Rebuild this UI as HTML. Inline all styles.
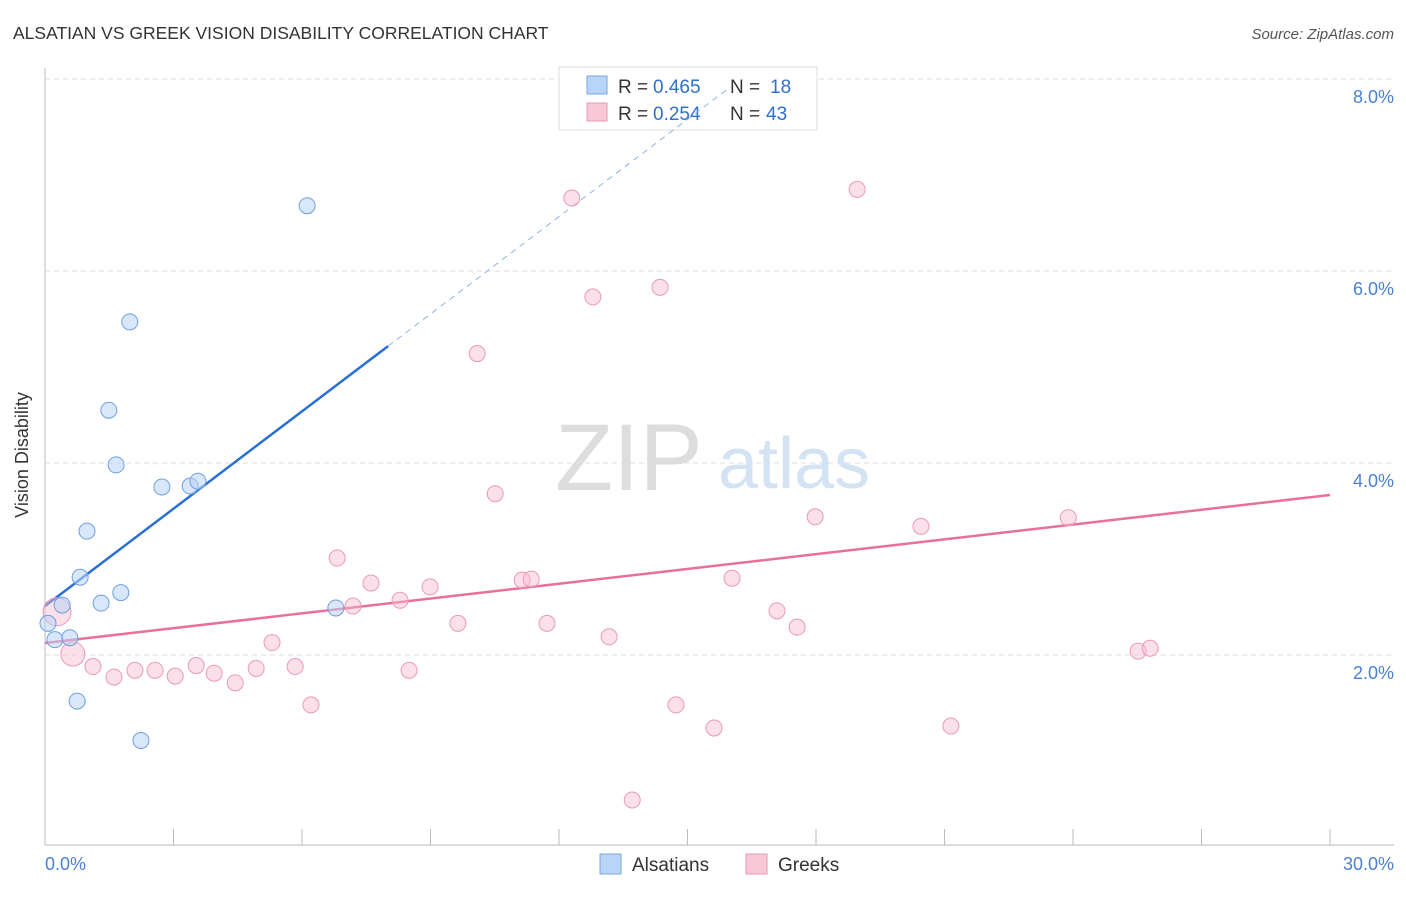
<!DOCTYPE html>
<html><head><meta charset="utf-8"><style>
body{margin:0;background:#fff;font-family:"Liberation Sans",sans-serif}
svg text{font-family:"Liberation Sans",sans-serif}
</style></head><body>
<svg width="1406" height="892">
<text x="13" y="39" font-size="17.5" fill="#333">ALSATIAN VS GREEK VISION DISABILITY CORRELATION CHART</text>
<text x="1394" y="39" font-size="15" fill="#555" text-anchor="end" font-style="italic">Source: ZipAtlas.com</text>
<text x="28" y="455" font-size="18" fill="#333" text-anchor="middle" transform="rotate(-90 28 455)">Vision Disability</text>
<g id="grid"></g>
<line x1="45" y1="68" x2="45" y2="845" stroke="#bbb"/>
<line x1="45" y1="845" x2="1394" y2="845" stroke="#bbb"/>
<text x="555" y="490" font-size="95" fill="#ddd" font-family="Liberation Serif">ZIP</text>
<text x="718" y="488" font-size="72" fill="#d4e3f4">atlas</text>
<g id="ticks"></g>
<g>
<rect x="559" y="67" width="258" height="63" fill="#fff" stroke="#ddd"/>
<rect x="587" y="76" width="20" height="18" fill="#b8d4f6" stroke="#7aa6e0"/>
<rect x="587" y="103" width="20" height="18" fill="#f9c8d6" stroke="#e99ab2"/>
<text x="618" y="93" font-size="19" fill="#333">R =</text>
<text x="653" y="93" font-size="19" fill="#2f6fd0">0.465</text>
<text x="730" y="93" font-size="19" fill="#333">N =</text>
<text x="770" y="93" font-size="19" fill="#2f6fd0">18</text>
<text x="618" y="120" font-size="19" fill="#333">R =</text>
<text x="653" y="120" font-size="19" fill="#2f6fd0">0.254</text>
<text x="730" y="120" font-size="19" fill="#333">N =</text>
<text x="766" y="120" font-size="19" fill="#2f6fd0">43</text>
</g>
<g id="lines"></g>
<g id="pts"></g>
<text x="45" y="870" font-size="18" fill="#4a7fd4">0.0%</text>
<text x="1394" y="870" font-size="18" fill="#4a7fd4" text-anchor="end">30.0%</text>
<rect x="600" y="854" width="21" height="20" fill="#b8d4f6" stroke="#7aa6e0"/>
<text x="632" y="871" font-size="19" fill="#333">Alsatians</text>
<rect x="746" y="854" width="21" height="20" fill="#f9c8d6" stroke="#e99ab2"/>
<text x="778" y="871" font-size="19" fill="#333">Greeks</text>
</svg>
<script>
const yTicks=[2,4,6,8];
const xTicks=[0,3,6,9,12,15,18,21,24,27,30];
const blueX=[6.12,1.98,1.49,1.66,2.73,3.39,3.57,0.98,0.82,1.77,1.31,0.40,0.07,0.23,0.58,6.79,0.75,2.24];
const blueY=[6.68,5.47,4.55,3.98,3.75,3.76,3.81,3.29,2.81,2.65,2.54,2.52,2.33,2.16,2.18,2.49,1.52,1.11];
const pinkX=[12.30,18.96,12.79,14.36,10.09,10.51,17.98,20.45,23.89,6.82,7.61,8.99,11.14,11.35,16.04,8.29,7.19,17.09,9.64,11.72,17.56,13.17,5.30,25.52,25.80,0.65,0.28,1.12,2.10,2.57,3.53,1.61,3.04,3.95,4.93,5.84,8.50,4.44,6.21,14.73,15.62,21.15,13.71];
const pinkY=[6.76,6.85,5.73,5.83,5.14,3.68,3.44,3.34,3.43,3.01,2.75,2.71,2.78,2.79,2.80,2.57,2.51,2.46,2.33,2.33,2.29,2.19,2.13,2.04,2.07,2.01,2.45,1.88,1.84,1.84,1.89,1.77,1.78,1.81,1.86,1.88,1.84,1.71,1.48,1.48,1.24,1.26,0.49];
const pinkR=[8,8,8,8,8,8,8,8,8,8,8,8,8,8,8,8,8,8,8,8,8,8,8,8,8,12,14,8,8,8,8,8,8,8,8,8,8,8,8,8,8,8,8];
const blueTrend=[2.51,0.338];
const pinkTrend=[2.125,0.0514];
const X=v=>45+v*1285/30, Y=v=>847-v*96;
const NS='http://www.w3.org/2000/svg';
function mk(t,a,p){const e=document.createElementNS(NS,t);for(const k in a)e.setAttribute(k,a[k]);document.getElementById(p).appendChild(e);return e;}
yTicks.forEach(t=>{
 const l=mk('line',{x1:45,x2:1394,y1:Y(t),y2:Y(t),stroke:'#ddd','stroke-dasharray':'5,4'},'grid');
 
 
 const s=mk('text',{x:1394,y:Y(t)+24,'font-size':18,fill:'#4a7fd4','text-anchor':'end'},'grid');
 s.textContent=t.toFixed(1)+'%';
 
 
});
xTicks.forEach(t=>{
 const l=mk('line',{x1:X(t),x2:X(t),y1:829,y2:845,stroke:'#bbb'},'ticks');
 
 
});
let l=mk('line',{x1:X(0),y1:Y(blueTrend[0]),x2:X(8.01),y2:Y(blueTrend[0]+blueTrend[1]*8.01),stroke:'#2a6fd6','stroke-width':2.5},'lines');


l=mk('line',{x1:X(8.01),y1:Y(blueTrend[0]+blueTrend[1]*8.01),x2:X(16),y2:Y(blueTrend[0]+blueTrend[1]*16),stroke:'#8fb2e6','stroke-width':1,'stroke-dasharray':'6,5'},'lines');


l=mk('line',{x1:X(0),y1:Y(pinkTrend[0]),x2:X(30),y2:Y(pinkTrend[0]+pinkTrend[1]*30),stroke:'#e8709a','stroke-width':2.5},'lines');


pinkX.forEach((x,i)=>{
 const c=mk('circle',{cx:X(x),cy:Y(pinkY[i]),r:pinkR[i],fill:'rgba(248,187,206,0.45)',stroke:'#e99ab2','stroke-width':1},'pts');
 
 
});
blueX.forEach((x,i)=>{
 const c=mk('circle',{cx:X(x),cy:Y(blueY[i]),r:8,fill:'rgba(184,212,246,0.55)',stroke:'#6f9ee0','stroke-width':1},'pts');
 
 
});
</script>
</body></html>
